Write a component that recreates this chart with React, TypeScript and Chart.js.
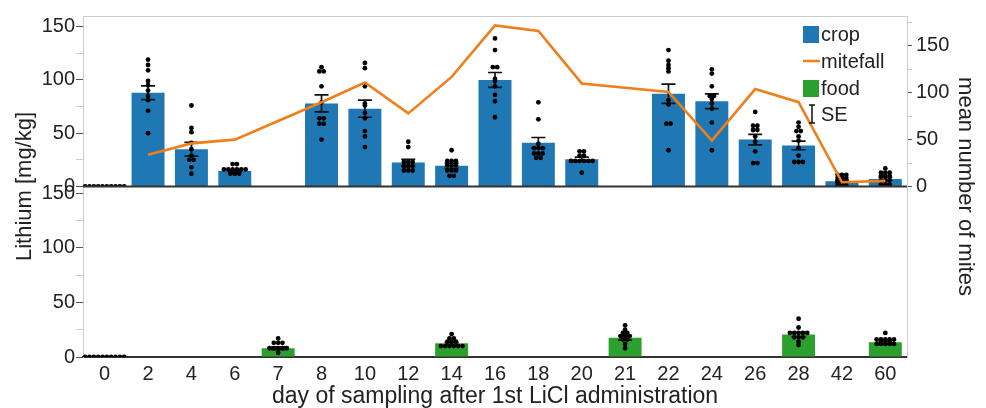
import React, { useEffect, useRef } from 'react';
import { Chart, registerables } from 'chart.js';

Chart.register(...registerables);

// ---------- data ----------
const days = ['0', '2', '4', '6', '7', '8', '10', '12', '14', '16', '18', '20', '21', '22', '24', '26', '28', '42', '60'];

const cropMean = [0, 88, 35, 14.5, null, 78, 73, 22.5, 19.5, 100, 41, 25.5, null, 87, 80, 44, 38.5, 5, 7];
const cropSE = [0, 6.5, 6.5, 1, 0, 8, 8, 3, 2.5, 7, 5, 2, 0, 9, 7, 5, 4, 1, 1.5];
const cropPoints: number[][] = [
  [0, 0, 0, 0, 0, 0, 0, 0, 0, 0],
  [119, 114, 109, 99, 95, 90, 85, 81, 71, 50],
  [76, 55, 51, 41, 35, 29, 25, 25, 18, 12],
  [21, 21, 16, 16, 16, 16, 16, 16, 12, 12, 12],
  [],
  [112, 108, 108, 94, 79, 64, 64, 59, 59, 44],
  [116, 111, 94, 78, 76, 69, 64, 52, 47, 37],
  [42, 37, 23, 23, 23, 19, 19, 19, 15, 15, 15],
  [34, 24, 24, 24, 20, 20, 20, 15, 15, 15, 10, 10],
  [139, 128, 112, 112, 101, 99, 94, 86, 80, 65],
  [79, 63, 40, 36, 36, 36, 31, 31, 31, 27, 27],
  [33, 33, 29, 29, 24, 24, 24, 24, 24, 24, 13],
  [],
  [128, 118, 114, 111, 108, 81, 77, 59, 59, 34],
  [110, 106, 94, 85, 85, 82, 78, 73, 60, 34],
  [70, 57, 57, 53, 53, 47, 42, 33, 22, 22],
  [60, 56, 52, 52, 47, 43, 36, 29, 23, 23, 23],
  [11, 11, 11, 8, 8, 8, 4, 4, 4, 1, 1, 1],
  [17, 13, 13, 13, 10, 10, 10, 6, 6, 6, 2, 2, 2],
];

const foodMean = [0, null, null, null, 8, null, null, null, 12.5, null, null, null, 17.5, null, null, null, 20.5, null, 13.5];
const foodSE = [0, 0, 0, 0, 1.2, 0, 0, 0, 1, 0, 0, 0, 2, 0, 0, 0, 2, 0, 1];
const foodPoints: number[][] = [
  [0, 0, 0, 0, 0, 0, 0, 0, 0, 0],
  [], [], [],
  [17, 13, 13, 13, 8, 8, 8, 8, 8, 4],
  [], [], [],
  [21, 17, 17, 14, 14, 14, 10, 10, 10, 10, 10, 10],
  [], [], [],
  [29, 25, 22, 22, 19, 19, 19, 16, 16, 12, 8],
  [], [], [],
  [35, 27, 22, 22, 22, 22, 22, 18, 18, 18, 14, 11],
  [],
  [22, 16, 16, 16, 16, 16, 12, 12, 12, 12, 12],
];

const mitefall = [null, 34, 46, 50, null, 90, 111, 78, 117, 172, 166, 110, null, 101, 49, 104, 90, 4.5, 6];

const leftTicksStep = 25;
const rightTicksStep = 25;

// ---------- styling ----------
const FONT = '"Liberation Sans", Arial, Helvetica, sans-serif';
const TEXT = '#222222';
const BLUE = '#1f77b4';
const GREEN = '#2ca02c';
const ORANGE = '#f07f1a';

function swarm(groups: number[][], tol: number, step: number) {
  const pts: { x: number; y: number }[] = [];
  groups.forEach((vals, i) => {
    const sorted = [...vals].sort((a, b) => b - a);
    let row: number[] = [];
    const flush = () => {
      row.forEach((v, k) => pts.push({ x: i + (k - (row.length - 1) / 2) * step, y: v }));
      row = [];
    };
    for (const v of sorted) {
      if (row.length && row[0] - v > tol) flush();
      row.push(v);
    }
    flush();
  });
  return pts;
}

const errorBars = {
  id: 'errorBars',
  afterDatasetDraw(chart: any, args: any) {
    const meta = args.meta;
    const ds: any = chart.data.datasets[args.index];
    if (!ds.se) return;
    const yScale = chart.scales[meta.yAxisID];
    const ctx = chart.ctx;
    ctx.save();
    ctx.strokeStyle = '#111';
    ctx.lineWidth = 1.7;
    meta.data.forEach((el: any, i: number) => {
      const m = ds.data[i];
      const se = ds.se[i];
      if (m == null || !se) return;
      const hi = yScale.getPixelForValue(m + se);
      const lo = yScale.getPixelForValue(m - se);
      const x = el.x;
      ctx.beginPath();
      ctx.moveTo(x, hi); ctx.lineTo(x, lo);
      ctx.moveTo(x - 7, hi); ctx.lineTo(x + 7, hi);
      ctx.moveTo(x - 7, lo); ctx.lineTo(x + 7, lo);
      ctx.stroke();
    });
    ctx.restore();
  },
};

const decor = {
  id: 'decor',
  afterDraw(chart: any) {
    const { ctx, chartArea: a, scales } = chart;
    const yTop = scales.yTop;
    ctx.save();
    // top frame line
    ctx.strokeStyle = '#cccccc';
    ctx.lineWidth = 1;
    ctx.beginPath();
    ctx.moveTo(a.left, a.top + 0.5);
    ctx.lineTo(a.right, a.top + 0.5);
    ctx.stroke();
    // panel separator
    ctx.strokeStyle = '#333333';
    ctx.lineWidth = 2;
    ctx.beginPath();
    ctx.moveTo(a.left, yTop.bottom);
    ctx.lineTo(a.right, yTop.bottom);
    ctx.stroke();

    // axis titles
    ctx.fillStyle = TEXT;
    ctx.font = `22px ${FONT}`;
    ctx.textAlign = 'center';
    ctx.textBaseline = 'middle';
    const midY = (a.top + a.bottom) / 2;
    ctx.save();
    ctx.translate(scales.yTop.left + 25, midY);
    ctx.rotate(-Math.PI / 2);
    ctx.fillText('Lithium [mg/kg]', 0, 0);
    ctx.restore();
    ctx.save();
    ctx.translate(scales.rTop.right - 21, midY);
    ctx.rotate(Math.PI / 2);
    ctx.fillText('mean number of mites', 0, 0);
    ctx.restore();

    // legend
    const ix = a.right - 104;
    const tx = a.right - 86;
    ctx.font = `20px ${FONT}`;
    ctx.textAlign = 'left';
    const rows = [a.top + 18, a.top + 45, a.top + 72, a.top + 98];
    ctx.fillStyle = BLUE;
    ctx.fillRect(ix, rows[0] - 8, 16, 17);
    ctx.strokeStyle = ORANGE;
    ctx.lineWidth = 2.5;
    ctx.beginPath();
    ctx.moveTo(ix, rows[1]);
    ctx.lineTo(ix + 17, rows[1]);
    ctx.stroke();
    ctx.fillStyle = GREEN;
    ctx.fillRect(ix, rows[2] - 8, 16, 17);
    ctx.strokeStyle = '#111';
    ctx.lineWidth = 1.5;
    const ex = ix + 9;
    ctx.beginPath();
    ctx.moveTo(ex, rows[3] - 9); ctx.lineTo(ex, rows[3] + 9);
    ctx.moveTo(ex - 3, rows[3] - 9); ctx.lineTo(ex + 3, rows[3] - 9);
    ctx.moveTo(ex - 3, rows[3] + 9); ctx.lineTo(ex + 3, rows[3] + 9);
    ctx.stroke();
    ctx.fillStyle = TEXT;
    ['crop', 'mitefall', 'food', 'SE'].forEach((t, i) => ctx.fillText(t, tx, rows[i] + 1));
    ctx.restore();
  },
};

export default function App() {
  const ref = useRef<HTMLCanvasElement>(null);

  useEffect(() => {
    if (!ref.current) return;
    Chart.defaults.font.family = FONT;
    Chart.defaults.color = TEXT;

    const tickColor = (c: any) => (c.tick && c.tick.value % 50 === 0 ? '#555555' : '#cccccc');
    const majorOnly = (v: any) => (v % 50 === 0 ? String(v) : '');

    const chart = new Chart(ref.current, {
      type: 'bar',
      data: {
        labels: days,
        datasets: [
          {
            type: 'line',
            label: 'mitefall',
            data: mitefall,
            yAxisID: 'rTop',
            xAxisID: 'x',
            borderColor: ORANGE,
            borderWidth: 2.6,
            pointRadius: 0,
            spanGaps: true,
            tension: 0,
            order: 0,
          } as any,
          {
            type: 'scatter',
            label: 'crop points',
            data: swarm(cropPoints, 1.5, 0.1),
            yAxisID: 'yTop',
            xAxisID: 'xs',
            backgroundColor: '#000',
            borderWidth: 0,
            pointRadius: 2.4,
            order: 1,
          } as any,
          {
            type: 'scatter',
            label: 'food points',
            data: swarm(foodPoints, 1.5, 0.1),
            yAxisID: 'yBot',
            xAxisID: 'xs',
            backgroundColor: '#000',
            borderWidth: 0,
            pointRadius: 2.4,
            order: 1,
          } as any,
          {
            type: 'bar',
            label: 'crop',
            data: cropMean,
            se: cropSE,
            yAxisID: 'yTop',
            xAxisID: 'x',
            backgroundColor: BLUE,
            grouped: false,
            categoryPercentage: 1,
            barPercentage: 0.76,
            order: 2,
          } as any,
          {
            type: 'bar',
            label: 'food',
            data: foodMean,
            se: foodSE,
            yAxisID: 'yBot',
            xAxisID: 'x',
            backgroundColor: GREEN,
            grouped: false,
            categoryPercentage: 1,
            barPercentage: 0.76,
            order: 2,
          } as any,
        ],
      },
      options: {
        responsive: false,
        devicePixelRatio: 1,
        animation: false,
        layout: { padding: { top: 12, left: 0, right: 0, bottom: 0 } },
        plugins: { legend: { display: false }, tooltip: { enabled: false } },
        scales: {
          x: {
            type: 'category',
            position: 'bottom',
            offset: true,
            grid: { display: true, drawOnChartArea: false, drawTicks: false },
            border: { color: '#333333', width: 2 },
            ticks: { font: { size: 20 }, color: TEXT, padding: 5, maxRotation: 0, autoSkip: false },
            title: {
              display: true,
              text: 'day of sampling after 1st LiCl administration',
              font: { size: 23, lineHeight: 1 },
              color: TEXT,
              padding: { top: 0, bottom: 0 },
            },
            afterFit: (s: any) => { s.height = 51; },
          },
          xs: {
            type: 'linear',
            position: 'bottom',
            display: false,
            offset: false,
            bounds: 'data',
            grid: { offset: false },
            min: -0.5,
            max: days.length - 0.5,
          },
          yBot: {
            type: 'linear',
            position: 'left',
            stack: 'left',
            stackWeight: 1,
            min: 0,
            max: 156,
            grid: { drawOnChartArea: false, tickLength: 7, tickColor },
            border: { color: '#cccccc', width: 1 },
            ticks: {
              stepSize: leftTicksStep,
              includeBounds: false,
              autoSkip: false,
              font: { size: 20 },
              color: TEXT,
              padding: 1,
              callback: majorOnly,
            },
            afterFit: (s: any) => { s.width = 83; },
          },
          yTop: {
            type: 'linear',
            position: 'left',
            stack: 'left',
            stackWeight: 1,
            min: 0,
            max: 160,
            grid: { drawOnChartArea: false, tickLength: 7, tickColor },
            border: { color: '#cccccc', width: 1 },
            ticks: {
              stepSize: leftTicksStep,
              includeBounds: false,
              autoSkip: false,
              font: { size: 20 },
              color: TEXT,
              padding: 1,
              callback: majorOnly,
            },
            afterFit: (s: any) => { s.width = 83; },
          },
          rTop: {
            type: 'linear',
            position: 'right',
            stack: 'right',
            stackWeight: 1,
            min: 0,
            max: 182,
            grid: { drawOnChartArea: false, tickLength: 5, tickColor },
            border: { color: '#cccccc', width: 1 },
            ticks: {
              stepSize: rightTicksStep,
              includeBounds: false,
              autoSkip: false,
              font: { size: 20 },
              color: TEXT,
              padding: 4,
              callback: majorOnly,
            },
            afterFit: (s: any) => { s.width = 79; },
          },
          rBot: {
            type: 'linear',
            position: 'right',
            stack: 'right',
            stackWeight: 1,
            min: 0,
            max: 1,
            grid: { drawOnChartArea: false, drawTicks: false },
            border: { color: '#cccccc', width: 1 },
            ticks: { display: false },
            afterFit: (s: any) => { s.width = 79; },
          },
        },
      } as any,
      plugins: [errorBars, decor],
    });
    return () => chart.destroy();
  }, []);

  return (
    <div style={{ position: 'fixed', left: 0, top: 0, width: 986, height: 408, background: '#fff' }}>
      <canvas ref={ref} width={986} height={408} style={{ width: 986, height: 408, display: 'block' }} />
    </div>
  );
}
